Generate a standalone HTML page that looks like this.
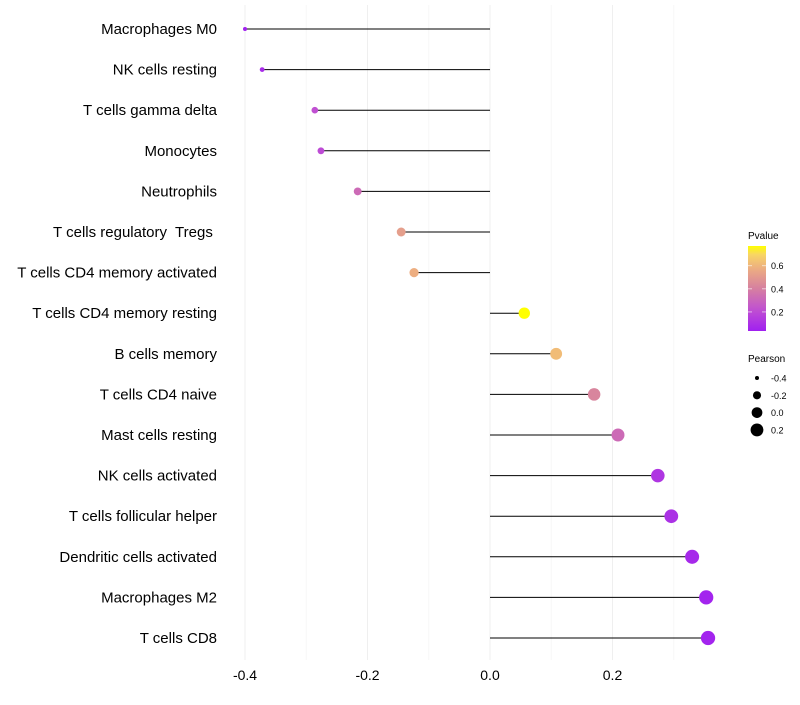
<!DOCTYPE html>
<html><head><meta charset="utf-8"><style>
body{margin:0;background:#fff;font-family:"Liberation Sans",sans-serif}
text{white-space:pre}
</style></head><body>
<svg id="chart" width="800" height="700" xmlns="http://www.w3.org/2000/svg" font-family="Liberation Sans, sans-serif"></svg>
<script>
const categories=["Macrophages M0","NK cells resting","T cells gamma delta","Monocytes","Neutrophils","T cells regulatory  Tregs ","T cells CD4 memory activated","T cells CD4 memory resting","B cells memory","T cells CD4 naive","Mast cells resting","NK cells activated","T cells follicular helper","Dendritic cells activated","Macrophages M2","T cells CD8"];
const pearson=[-0.400,-0.372,-0.286,-0.276,-0.216,-0.145,-0.124,0.056,0.108,0.170,0.209,0.274,0.296,0.330,0.353,0.356];
const pvalue=[0.04,0.08,0.22,0.20,0.32,0.52,0.58,0.77,0.62,0.42,0.32,0.12,0.10,0.07,0.05,0.05];
const xTicks=[-0.4,-0.2,0.0,0.2];
const minorTicks=[-0.3,-0.1,0.1,0.3];
const pTicks=[0.2,0.4,0.6];
const sizeTicks=[-0.4,-0.2,0.0,0.2];

const svg=document.getElementById('chart');
const NS='http://www.w3.org/2000/svg';
function mk(t,a,p){const e=document.createElementNS(NS,t);for(const k in a)e.setAttribute(k,a[k]);(p||svg).appendChild(e);return e;}
const x=v=>490+v*612.5;
const y=i=>29+i*40.6;
const r=v=>Math.sqrt(4+(v+0.4)*62);
const pMin=0.035,pMax=0.77;
function col(p){
  const stops=[[0,[160,32,240]],[0.25,[192,80,210]],[0.5,[214,128,160]],[0.75,[238,176,128]],[0.9,[248,214,100]],[1,[255,255,0]]];
  let t=Math.max(0,Math.min(1,(p-pMin)/(pMax-pMin)));
  let i=0;while(i<stops.length-2&&t>stops[i+1][0])i++;
  const a=stops[i],b=stops[i+1];
  const u=(t-a[0])/(b[0]-a[0]);
  return 'rgb('+a[1].map((c,k)=>Math.round(c+(b[1][k]-c)*u)).join(',')+')';
}
minorTicks.forEach(v=>{const g=mk('line',{x1:x(v),x2:x(v),y1:5,y2:660,stroke:'#f7f7f7','stroke-width':1});

});
xTicks.forEach(v=>{const g=mk('line',{x1:x(v),x2:x(v),y1:5,y2:660,stroke:'#efefef','stroke-width':1});


const t=mk('text',{x:x(v),y:680,'text-anchor':'middle','font-size':14,fill:'#000'});t.textContent=v.toFixed(1);

});
categories.forEach((c,i)=>{
  const t=mk('text',{x:217,y:y(i)+5,'text-anchor':'end','font-size':15,fill:'#000'});t.textContent=c;
  
  
  const l=mk('line',{x1:x(0),x2:x(pearson[i]),y1:y(i),y2:y(i),stroke:'#000','stroke-width':1});
  
  
  const d=mk('circle',{cx:x(pearson[i]),cy:y(i),r:r(pearson[i]),fill:col(pvalue[i])});
  
  
});
const lt=mk('text',{x:748,y:239,'font-size':10,fill:'#000'});lt.textContent='Pvalue';


const defs=mk('defs',{});
const grad=mk('linearGradient',{id:'pg',x1:0,y1:1,x2:0,y2:0},defs);
[0,0.1,0.2,0.3,0.4,0.5,0.6,0.7,0.8,0.9,1].forEach(s=>mk('stop',{offset:s,'stop-color':col(pMin+s*(pMax-pMin))},grad));
const bar=mk('rect',{x:748,y:246,width:18,height:85,fill:'url(#pg)'});


const py=p=>331-(p-pMin)/(pMax-pMin)*85;
pTicks.forEach(p=>{const t=mk('text',{x:771,y:py(p)+3.5,'font-size':9,fill:'#000'});t.textContent=p.toFixed(1);


mk('line',{x1:748,x2:752,y1:py(p),y2:py(p),stroke:'#fff','stroke-opacity':0.6});mk('line',{x1:762,x2:766,y1:py(p),y2:py(p),stroke:'#fff','stroke-opacity':0.6});});
const st=mk('text',{x:748,y:362,'font-size':10,fill:'#000'});st.textContent='Pearson';


sizeTicks.forEach((v,k)=>{const cy=378+k*17.3;
const c=mk('circle',{cx:757,cy:cy,r:r(v),fill:'#000'});


const t=mk('text',{x:771,y:cy+3.5,'font-size':9,fill:'#000'});t.textContent=v.toFixed(1);

});
</script>
</body></html>
